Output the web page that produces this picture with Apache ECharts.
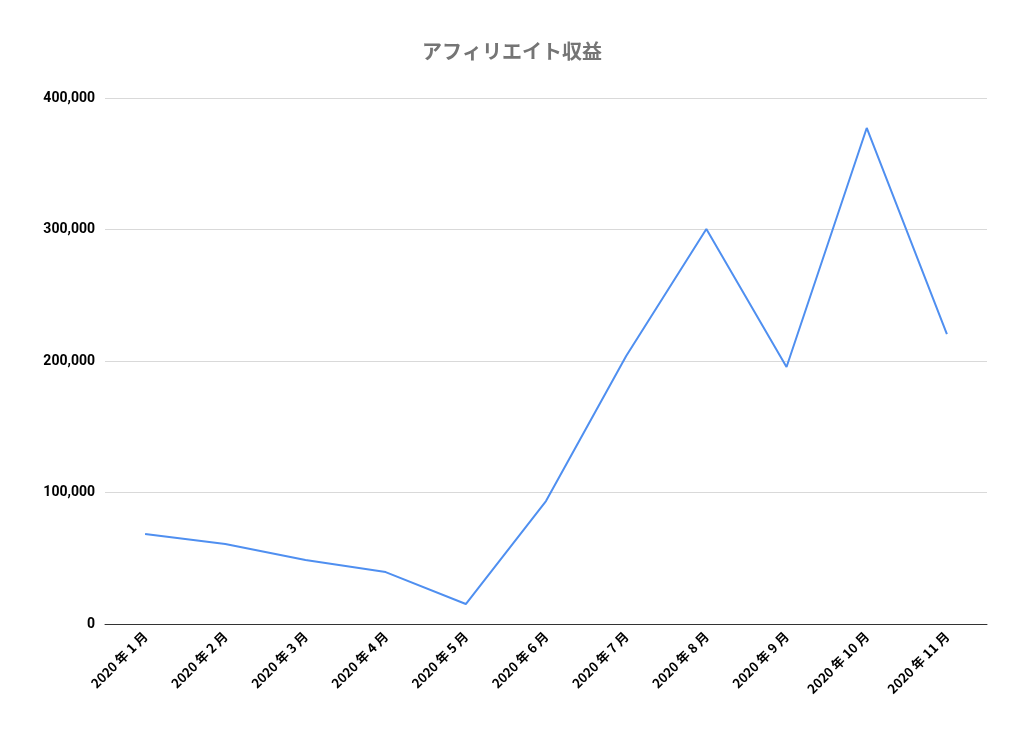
<!DOCTYPE html>
<html>
<head>
<meta charset="utf-8">
<script src="https://cdn.jsdelivr.net/npm/echarts@6/dist/echarts.min.js"></script>
<style>html,body{margin:0;background:#fff}#c{width:1024px;height:730px}</style>
</head>
<body>
<div id="c"></div>
<script>
const categories = ['2020 年 1 月', '2020 年 2 月', '2020 年 3 月', '2020 年 4 月', '2020 年 5 月', '2020 年 6 月',
  '2020 年 7 月', '2020 年 8 月', '2020 年 9 月', '2020 年 10 月', '2020 年 11 月']
const revenue = [68400, 60800, 48700, 39500, 15200, 93500, 203800, 300400, 195400, 377200, 220500]

const chart = echarts.init(document.getElementById('c'))
chart.setOption({
  title: {
    text: 'アフィリエイト収益',
    left: 'center',
    top: 36,
    textStyle: {color: '#757575', fontSize: 20, fontWeight: 'bold', fontFamily: 'Noto Sans CJK JP'}
  },
  grid: {left: 105, right: 37, top: 98, bottom: 106},
  xAxis: {
    type: 'category',
    data: categories,
    axisTick: {show: false},
    axisLine: {lineStyle: {color: '#333'}},
    axisLabel: {rotate: 45, interval: 0, color: '#000', fontWeight: 'bold', fontSize: 13,
      fontFamily: 'Noto Sans CJK JP', margin: 10}
  },
  yAxis: {
    type: 'value',
    min: 0, max: 400000, interval: 100000,
    axisLabel: {color: '#000', fontWeight: 'bold', fontSize: 14, fontFamily: 'Roboto', margin: 10,
      formatter: v => v.toLocaleString('en-US')},
    splitLine: {lineStyle: {color: '#d9d9d9'}}
  },
  series: [{
    type: 'line',
    data: revenue,
    symbol: 'none',
    lineStyle: {color: '#4f8ff0', width: 2}
  }]
})
</script>
</body>
</html>
